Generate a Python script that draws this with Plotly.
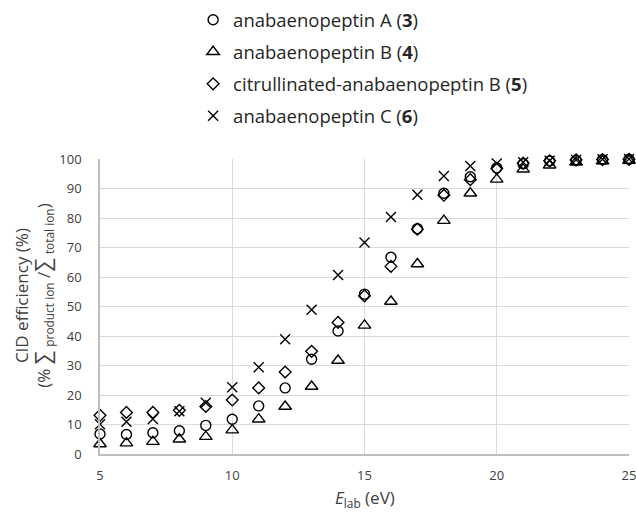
import plotly.graph_objects as go

energy = list(range(5, 26))

anabaenopeptin_A = [6.8, 6.6, 7.2, 7.9, 9.7, 11.8, 16.3, 22.4, 32.1, 41.7, 54.2,
                    66.7, 76.4, 88.4, 94.0, 97.0, 98.4, 99.3, 99.6, 99.8, 99.9]
anabaenopeptin_B = [3.4, 3.7, 4.2, 5.0, 5.9, 8.1, 11.8, 16.1, 22.9, 31.7, 43.6,
                    51.7, 64.4, 79.1, 88.4, 93.1, 96.5, 97.9, 98.9, 99.3, 99.5]
citrullinated_B = [13.1, 14.1, 14.1, 14.8, 16.1, 18.3, 22.4, 27.8, 34.8, 44.6, 53.6,
                   63.6, 76.2, 87.7, 93.0, 96.8, 98.6, 99.4, 99.7, 99.8, 99.9]
anabaenopeptin_C = [10.1, 10.9, 11.9, 14.5, 17.4, 22.6, 29.4, 38.9, 48.9, 60.7, 71.7,
                    80.3, 87.9, 94.2, 97.6, 98.5, 98.9, 99.4, 99.7, 99.9, 100.0]

series_names = ["anabaenopeptin A (<b>3</b>)",
                "anabaenopeptin B (<b>4</b>)",
                "citrullinated-anabaenopeptin B (<b>5</b>)",
                "anabaenopeptin C (<b>6</b>)"]
series_values = [anabaenopeptin_A, anabaenopeptin_B, citrullinated_B, anabaenopeptin_C]
symbols = ["circle-open", "triangle-up-open", "diamond-open", "x-thin-open"]
sizes = [10, 11, 9, 10]

x_ticks = [5, 10, 15, 20, 25]
y_ticks = list(range(0, 101, 10))

FONT = "Open Sans"
TXT = "#404040"

fig = go.Figure()
for i, (name, vals, sym, sz) in enumerate(zip(series_names, series_values, symbols, sizes)):
    fig.add_trace(go.Scatter(
        x=energy, y=vals, mode="markers", name=name,
        legendgroup=f"g{i}",
        marker=dict(symbol=sym, size=sz, color="black",
                    line=dict(color="black", width=1.4)),
        cliponaxis=False,
    ))

fig.update_layout(
    width=636, height=512,
    margin=dict(l=100, r=7, t=159, b=58, autoexpand=False),
    paper_bgcolor="white", plot_bgcolor="white",
    font=dict(family=FONT, color=TXT, size=13),
    showlegend=True,
    legend=dict(x=0.176, y=1.535, xanchor="left", yanchor="top",
                font=dict(family=FONT, size=18.5, color="#262626"),
                tracegroupgap=5, bgcolor="rgba(0,0,0,0)"),
    xaxis=dict(range=[5, 25], tickvals=x_ticks, ticktext=[str(v) for v in x_ticks],
               showgrid=True, gridcolor="#d9d9d9", gridwidth=1,
               showline=True, linecolor="#bfbfbf", linewidth=1.5,
               zeroline=False, ticks="", ticklabelstandoff=9,
               ticklabeloverflow="allow", automargin=False,
               tickfont=dict(size=13, color=TXT)),
    yaxis=dict(range=[0, 100], tickvals=y_ticks, ticktext=[str(v) for v in y_ticks],
               showgrid=True, gridcolor="#d9d9d9", gridwidth=1,
               showline=True, linecolor="#bfbfbf", linewidth=1.5,
               zeroline=False, ticks="", ticklabelstandoff=14, automargin=False,
               tickfont=dict(size=13, color=TXT)),
)

fig.add_annotation(
    text="CID efficiency (%)<br>(% <span style='font-size:21px'>∑</span> <sub>product ion</sub> /<span style='font-size:21px'>∑</span> <sub>total ion</sub>)",
    xref="paper", yref="paper", x=-0.125, y=0.539,
    xanchor="center", yanchor="middle", textangle=-90, showarrow=False,
    font=dict(family=FONT, size=17, color=TXT),
)
fig.add_annotation(
    text="<i>E</i><sub>lab</sub> (eV)",
    xref="paper", yref="paper", x=0.5, y=-0.152,
    xanchor="center", yanchor="middle", showarrow=False,
    font=dict(family=FONT, size=17, color=TXT),
)

fig.write_html("out.html")
